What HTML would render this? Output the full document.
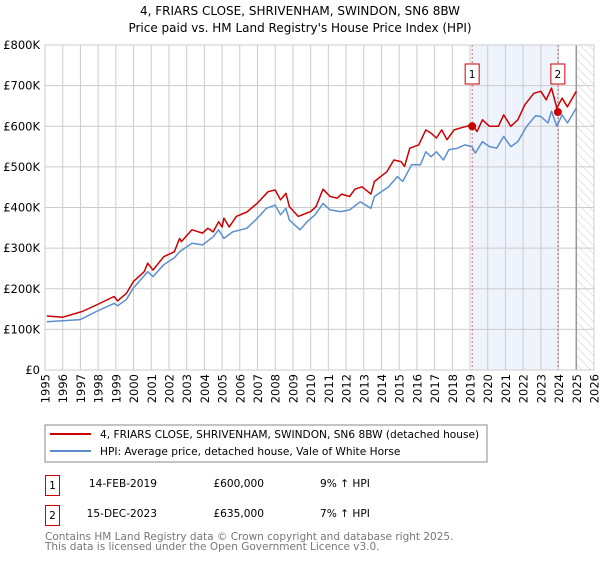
<!DOCTYPE html>
<html><head><meta charset="utf-8"><style>
body{margin:0;background:#fff;font-family:"DejaVu Sans","Liberation Sans",sans-serif;}
svg text{font-family:"DejaVu Sans","Liberation Sans",sans-serif;}
</style></head><body>
<svg id="c" width="600" height="560">
<defs><pattern id="hatch" width="6" height="6" patternUnits="userSpaceOnUse" patternTransform="rotate(-45)"><line x1="0" y1="0" x2="0" y2="6" stroke="#ccc" stroke-width="1"/></pattern></defs>
<text x="300" y="15" text-anchor="middle" font-size="12">4, FRIARS CLOSE, SHRIVENHAM, SWINDON, SN6 8BW</text>
<text x="300" y="32" text-anchor="middle" font-size="12">Price paid vs. HM Land Registry's House Price Index (HPI)</text>
<g id="plot"></g>
<rect x="45" y="425" width="442" height="37" fill="#fff" stroke="#888"/>
<line x1="50" y1="434" x2="91" y2="434" stroke="#cc0000" stroke-width="2"/>
<text x="100" y="438" font-size="10.6">4, FRIARS CLOSE, SHRIVENHAM, SWINDON, SN6 8BW (detached house)</text>
<line x1="50" y1="451" x2="91" y2="451" stroke="#5b8fd0" stroke-width="2"/>
<text x="100" y="455" font-size="10.6">HPI: Average price, detached house, Vale of White Horse</text>
<rect x="45.5" y="475.5" width="14" height="20" fill="#fff" stroke="#cc0000"/>
<text x="52.5" y="489" text-anchor="middle" font-size="10.6">1</text>
<text x="157" y="487" text-anchor="end" font-size="10.6">14-FEB-2019</text>
<text x="264" y="487" text-anchor="end" font-size="10.6">£600,000</text>
<text x="320" y="487" font-size="10.6">9% ↑ HPI</text>
<rect x="45.5" y="505.5" width="14" height="20" fill="#fff" stroke="#cc0000"/>
<text x="52.5" y="519" text-anchor="middle" font-size="10.6">2</text>
<text x="157" y="517" text-anchor="end" font-size="10.6">15-DEC-2023</text>
<text x="264" y="517" text-anchor="end" font-size="10.6">£635,000</text>
<text x="320" y="517" font-size="10.6">7% ↑ HPI</text>
<text x="45" y="540" font-size="10.5" fill="#777">Contains HM Land Registry data © Crown copyright and database right 2025.</text>
<text x="45" y="550" font-size="10.5" fill="#777">This data is licensed under the Open Government Licence v3.0.</text>
</svg>
<script>
const redYears=[1995.1,1996.0,1997.1,1997.9,1998.9,1999.1,1999.6,2000.0,2000.6,2000.8,2001.1,2001.7,2002.3,2002.6,2002.7,2003.3,2003.9,2004.2,2004.5,2004.8,2005.0,2005.1,2005.4,2005.8,2006.4,2007.0,2007.6,2008.0,2008.3,2008.6,2008.8,2009.3,2010.0,2010.3,2010.7,2011.1,2011.5,2011.75,2012.2,2012.5,2012.9,2013.4,2013.6,2014.3,2014.7,2015.1,2015.3,2015.6,2016.1,2016.5,2016.8,2017.1,2017.4,2017.7,2018.1,2018.4,2018.8,2019.1,2019.4,2019.7,2020.1,2020.6,2020.9,2021.3,2021.7,2022.1,2022.6,2023.0,2023.3,2023.6,2023.9,2024.2,2024.5,2025.0];
const redValues=[133,130,144,160,181,170,189,218,242,263,246,279,291,324,316,345,337,349,340,365,352,374,352,378,389,411,439,443,419,435,402,378,390,402,445,427,423,433,427,445,451,433,464,488,517,513,501,546,554,591,583,571,591,567,591,595,600,604,587,616,600,600,628,600,616,653,681,686,665,694,645,669,648,686];
const hpiYears=[1995.1,1997.0,1997.9,1998.9,1999.1,1999.6,2000.0,2000.8,2001.1,2001.7,2002.3,2002.6,2003.3,2003.9,2004.5,2004.8,2005.1,2005.6,2006.4,2007.0,2007.5,2008.0,2008.3,2008.6,2008.8,2009.4,2009.8,2010.25,2010.7,2011.1,2011.7,2012.2,2012.8,2013.4,2013.6,2014.4,2014.9,2015.2,2015.7,2016.2,2016.5,2016.8,2017.1,2017.5,2017.8,2018.3,2018.7,2019.1,2019.3,2019.7,2020.1,2020.5,2020.9,2021.3,2021.7,2022.2,2022.7,2023.0,2023.4,2023.6,2023.9,2024.2,2024.5,2025.0];
const hpiValues=[119,124,144,164,158,174,202,242,230,259,276,291,312,308,328,345,324,340,349,374,398,406,382,398,369,345,365,382,410,394,390,394,414,398,427,451,476,464,505,505,537,525,537,517,542,546,554,550,534,562,550,546,575,550,562,600,626,624,608,637,600,628,608,645];
const saleYears=[2019.12,2023.96];
const saleValues=[600,635];
const saleLabels=['1','2'];
const yTicks=[0,100,200,300,400,500,600,700,800];
const yTickLabels=['£0','£100K','£200K','£300K','£400K','£500K','£600K','£700K','£800K'];
const xTicks=[1995,1996,1997,1998,1999,2000,2001,2002,2003,2004,2005,2006,2007,2008,2009,2010,2011,2012,2013,2014,2015,2016,2017,2018,2019,2020,2021,2022,2023,2024,2025,2026];

const X0=45,X1=594,Y0=370,Y1=45;
const xs=y=>X0+(y-1995)/(2026-1995)*(X1-X0);
const ys=v=>Y0-v/800*(Y0-Y1);
const NS='http://www.w3.org/2000/svg';
const g=document.getElementById('plot');
function mk(t,a,p){const e=document.createElementNS(NS,t);for(const k in a)e.setAttribute(k,a[k]);(p||g).appendChild(e);return e;}
let bg=mk('rect',{x:X0,y:Y1,width:X1-X0,height:Y0-Y1,fill:'#fff'});


let sh=mk('rect',{x:xs(saleYears[0]),y:Y1,width:xs(saleYears[1])-xs(saleYears[0]),height:Y0-Y1,fill:'#eef3fc'});


let ht=mk('rect',{x:xs(2025),y:Y1,width:X1-xs(2025),height:Y0-Y1,fill:'url(#hatch)'});


xTicks.forEach((t,i)=>{
  let l=mk('line',{x1:xs(t),x2:xs(t),y1:Y1,y2:Y0,stroke:'#ccc','stroke-width':1});
  
  
  const ax=xs(t)+4.5, ay=374;
  let tx=mk('text',{x:ax,y:ay,'text-anchor':'end','font-size':11.5,transform:'rotate(-90 '+ax+' '+ay+')'});
  tx.textContent=t;
  
  
});
yTicks.forEach((t,i)=>{
  let l=mk('line',{x1:X0,x2:X1,y1:ys(t),y2:ys(t),stroke:'#ccc','stroke-width':1});
  
  
  let tx=mk('text',{x:40,y:ys(t)+4,'text-anchor':'end','font-size':11.5});
  tx.textContent=yTickLabels[i];
  
  
});
let nl=mk('line',{x1:xs(2025),x2:xs(2025),y1:Y1,y2:Y0,stroke:'#999','stroke-width':1.5});


saleYears.forEach((y,i)=>{
  let l=mk('line',{x1:xs(y),x2:xs(y),y1:Y1,y2:Y0,stroke:'#e06060','stroke-width':1,'stroke-dasharray':'2,2'});
  
  
});
function path(xa,va,c,n){
  let d=xa.map((y,i)=>(i?'L':'M')+xs(y).toFixed(1)+','+ys(va[i]).toFixed(1)).join('');
  let p=mk('path',{d:d,fill:'none',stroke:c,'stroke-width':1.5,'stroke-linejoin':'round'});
  
  
}
path(hpiYears,hpiValues,'#5b8fd0','hpi-line');
path(redYears,redValues,'#cc0000','property-price-line');
saleYears.forEach((y,i)=>{
  let c=mk('circle',{cx:xs(y),cy:ys(saleValues[i]),r:4,fill:'#cc0000'});
  
  
  let r=mk('rect',{x:xs(y)-7,y:64,width:14,height:20,fill:'#fff',stroke:'#cc0000'});
  
  
  let t=mk('text',{x:xs(y),y:78,'text-anchor':'middle','font-size':10.6});
  t.textContent=saleLabels[i];
});
let bd=mk('rect',{x:X0,y:Y1,width:X1-X0,height:Y0-Y1,fill:'none',stroke:'#ccc'});


</script>
</body></html>
